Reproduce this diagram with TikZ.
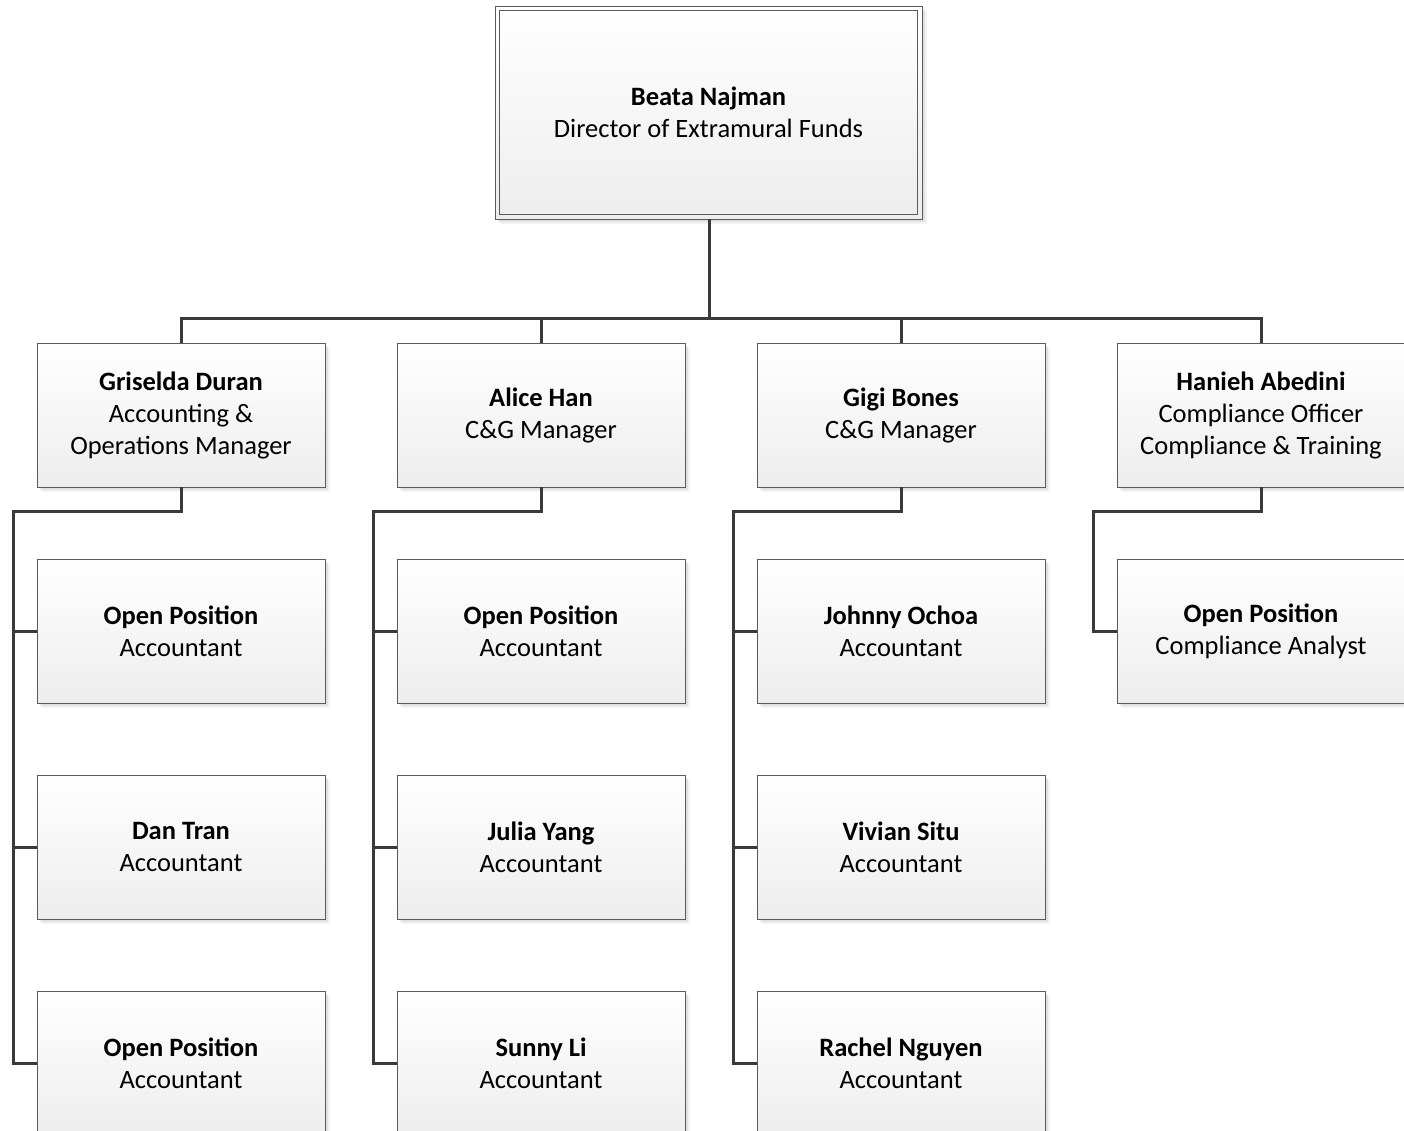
\documentclass[tikz,border=0pt]{standalone}
\usepackage{fontspec}
\setmainfont{Carlito}
\definecolor{lineC}{HTML}{3A3A3A}
\definecolor{edgeC}{HTML}{5A5A5A}
\definecolor{boxBot}{HTML}{EDEDED}
\tikzset{
  card/.style={rectangle, minimum width=288pt, minimum height=144pt, inner sep=0pt,
    draw=edgeC, line width=0.9pt, top color=white, bottom color=boxBot, align=center,
    font=\fontsize{26.5}{32}\selectfont,
    preaction={fill=black, opacity=0.07, transform canvas={xshift=3pt,yshift=-3pt}},
    preaction={fill=black, opacity=0.05, transform canvas={xshift=5pt,yshift=-5pt}}},
  topcard/.style={card, minimum width=427pt, minimum height=213pt},
  conn/.style={draw=lineC, line width=3pt},
}
\begin{document}
\begin{tikzpicture}[x=1pt,y=-1pt]
\useasboundingbox (0,0) rectangle (1404,1131);
\begin{scope}
\clip (0,0) rectangle (1404,1131);
% top box
\node[topcard] (top) at (708.5,112.5) {\textbf{Beata Najman}\\Director of Extramural Funds};
\draw[edgeC, line width=0.9pt] ([shift={(5pt,-5pt)}]top.north west) rectangle ([shift={(-5pt,5pt)}]top.south east);
% level 2
\node[card] (m1) at (181,415) {\textbf{Griselda Duran}\\Accounting \&\\Operations Manager};
\node[card] (m2) at (541,415) {\textbf{Alice Han}\\C\&G Manager};
\node[card] (m3) at (901,415) {\textbf{Gigi Bones}\\C\&G Manager};
\node[card] (m4) at (1261,415) {\textbf{Hanieh Abedini}\\Compliance Officer\\Compliance \& Training};
% level 3
\node[card] (a1) at (181,631) {\textbf{Open Position}\\Accountant};
\node[card] (a2) at (181,847) {\textbf{Dan Tran}\\Accountant};
\node[card] (a3) at (181,1063) {\textbf{Open Position}\\Accountant};
\node[card] (b1) at (541,631) {\textbf{Open Position}\\Accountant};
\node[card] (b2) at (541,847) {\textbf{Julia Yang}\\Accountant};
\node[card] (b3) at (541,1063) {\textbf{Sunny Li}\\Accountant};
\node[card] (c1) at (901,631) {\textbf{Johnny Ochoa}\\Accountant};
\node[card] (c2) at (901,847) {\textbf{Vivian Situ}\\Accountant};
\node[card] (c3) at (901,1063) {\textbf{Rachel Nguyen}\\Accountant};
\node[card] (d1) at (1261,631) {\textbf{Open Position}\\Compliance Analyst};
% connectors
\coordinate (bus) at (709,318);
\draw[conn] (top.south -| bus) -- (bus);
\draw[conn] (m1.north) |- (bus) -| (m4.north);
\draw[conn] (m2.north) -- (m2.north |- bus);
\draw[conn] (m3.north) -- (m3.north |- bus);
\foreach \m/\x/\c in {m1/13/a, m2/373/b, m3/733/c}{
  \draw[conn, line join=miter] (\m.south) -- ++(0,24) -| (\x,1063) -- (\c3.west);
  \draw[conn] (\x,631) -- (\c1.west);
  \draw[conn] (\x,847) -- (\c2.west);
}
\draw[conn, line join=miter] (m4.south) -- ++(0,24) -| (1093,631) -- (d1.west);
\end{scope}
\end{tikzpicture}
\end{document}
